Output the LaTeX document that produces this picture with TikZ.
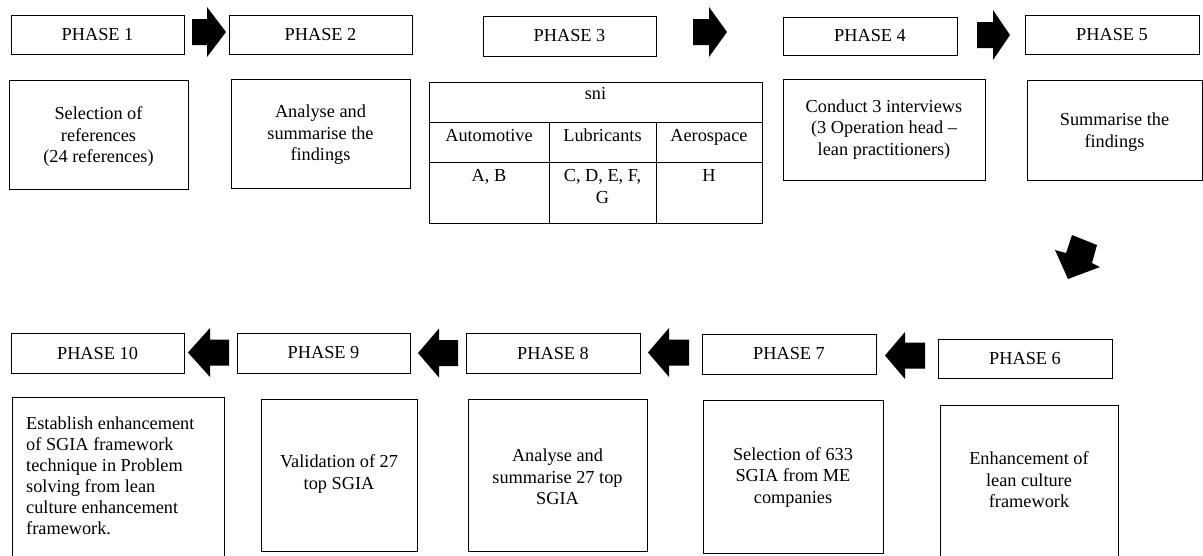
\documentclass[tikz,border=0pt]{standalone}
\usepackage{fontspec}
\setmainfont{Liberation Serif}
\newcommand{\barr}[6]{% tail x, y, dir, length, head length, head half width
  \fill[shift={(#1,#2)}, xscale=#3] (0,-13) -- ({#4-#5},-13) -- ({#4-#5},-#6) -- (#4,0) -- ({#4-#5},#6) -- ({#4-#5},13) -- (0,13) -- cycle;}
\begin{document}
\begin{tikzpicture}[x=1pt,y=-1pt,
  box/.style={draw, line width=1pt, inner sep=0pt, outer sep=0pt},
  hdr/.style={box, font=\fontsize{18.3}{21.5}\selectfont},
  txt/.style={font=\fontsize{18.3}{21.5}\selectfont, align=center, inner sep=0pt},
  lefttxt/.style={font=\fontsize{18.3}{21}\selectfont, align=left, inner sep=0pt, anchor=west},
  cell/.style={font=\fontsize{18.3}{22}\selectfont, align=center, inner sep=0pt, anchor=base},
  grid/.style={line width=1pt}]
\useasboundingbox (0,0) rectangle (1203,555);
\clip (0,0) rectangle (1203,555);
% phase headers
\node[hdr, minimum width=173pt, minimum height=39pt] (p1) at (97.5,34.5) {PHASE 1};
\node[hdr, minimum width=183pt, minimum height=39pt] (p2) at (320.5,34.5) {PHASE 2};
\node[hdr, minimum width=173pt, minimum height=40pt] (p3) at (569.5,36) {PHASE 3};
\node[hdr, minimum width=174pt, minimum height=38pt] (p4) at (870,36) {PHASE 4};
\node[hdr, minimum width=174pt, minimum height=39pt] (p5) at (1112,34.5) {PHASE 5};
\node[hdr, minimum width=174pt, minimum height=39pt] (p6) at (1025,358.5) {PHASE 6};
\node[hdr, minimum width=174pt, minimum height=40pt] (p7) at (789,354) {PHASE 7};
\node[hdr, minimum width=174pt, minimum height=40pt] (p8) at (553,353) {PHASE 8};
\node[hdr, minimum width=173pt, minimum height=40pt] (p9) at (323.5,353) {PHASE 9};
\node[hdr, minimum width=173pt, minimum height=40pt] (p10) at (97.5,353) {PHASE 10};
% content boxes
\node[box, minimum width=179pt, minimum height=109pt] (b1) at (98.5,134.5) {};
\node[txt] (t1) at (98.5,137) {Selection of\\references\\(24 references)};
\node[box, minimum width=179pt, minimum height=109pt] (b2) at (320.5,133.5) {};
\node[txt] (t2) at (320.5,135) {Analyse and\\summarise the\\findings};
\node[box, minimum width=202pt, minimum height=101pt] (b4) at (884,129.5) {};
\node[txt] (t4) at (884,129.5) {Conduct 3 interviews\\(3 Operation head –\\lean practitioners)};
\node[box, minimum width=175pt, minimum height=100pt] (b5) at (1114.5,130) {};
\node[txt] (t5) at (1114.5,132) {Summarise the\\findings};
\node[box, minimum width=178pt, minimum height=160pt] (b6) at (1029,485) {};
\node[txt] (t6) at (1029,480) {Enhancement of\\lean culture\\framework};
\node[box, minimum width=180pt, minimum height=153pt] (b7) at (793,476.5) {};
\node[txt] (t7) at (793,477) {Selection of 633\\SGIA from ME\\companies};
\node[box, minimum width=179pt, minimum height=152pt] (b8) at (557.5,475) {};
\node[txt] (t8) at (557.5,477) {Analyse and\\summarise 27 top\\SGIA};
\node[box, minimum width=156pt, minimum height=152pt] (b9) at (339,475) {};
\node[txt] (t9) at (339,474) {Validation of 27\\top SGIA};
\node[box, minimum width=212pt, minimum height=168pt] (b10) at (118,481) {};
\node[lefttxt] (t10) at (26,476) {Establish enhancement\\of SGIA framework\\technique in Problem\\solving from lean\\culture enhancement\\framework.};
% table of phase 3
\node[box, minimum width=333pt, minimum height=141pt] (tbl) at (595.5,152.5) {};
\draw[grid] (429,122) -- (762,122);
\draw[grid] (429,162) -- (762,162);
\draw[grid] (549,122) -- (549,223);
\draw[grid] (656,122) -- (656,223);
\node[cell] (sni) at (595.5,99) {sni};
\node[cell] (c1) at (489,141) {Automotive};
\node[cell] (c2) at (602.5,141) {Lubricants};
\node[cell] (c3) at (709,141) {Aerospace};
\node[cell] (d1) at (489,181) {A, B};
\node[cell, anchor=north] (d2) at (602.5,169) {C, D, E, F,\\G};
\node[cell] (d3) at (709,181) {H};
% block arrows
\barr{192}{32}{1}{34}{19}{25}
\barr{693}{32}{1}{34}{18}{25}
\barr{977}{35}{1}{33}{17}{25}
\barr{925}{355.5}{-1}{40}{20}{23.5}
\barr{689}{352.5}{-1}{41}{21}{24.5}
\barr{458}{353}{-1}{40}{21}{24.5}
\barr{229}{352.5}{-1}{41}{22}{24.5}
\fill (1072,235) -- (1097,245) -- (1092,263) -- (1100,267) -- (1068,279) -- (1055,250) -- (1066,253) -- cycle;
\end{tikzpicture}
\end{document}
